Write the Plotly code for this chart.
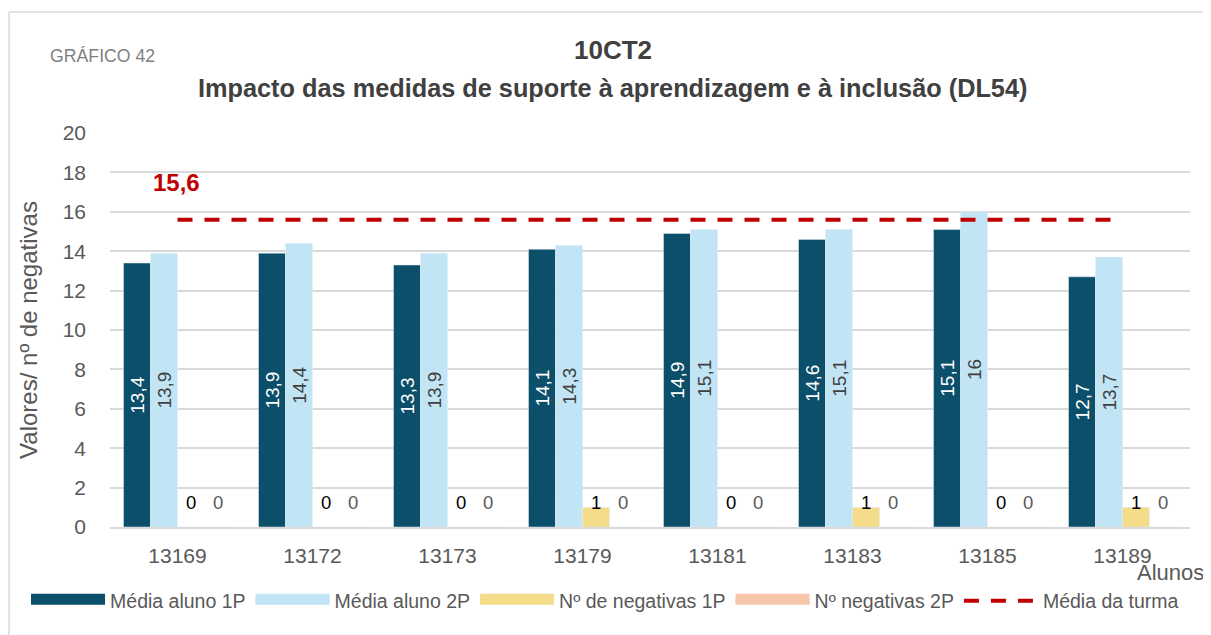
import plotly.graph_objects as go

alunos = ["13169", "13172", "13173", "13179", "13181", "13183", "13185", "13189"]
media_1p = [13.4, 13.9, 13.3, 14.1, 14.9, 14.6, 15.1, 12.7]
media_2p = [13.9, 14.4, 13.9, 14.3, 15.1, 15.1, 16.0, 13.7]
neg_1p = [0, 0, 0, 1, 0, 1, 0, 1]
neg_2p = [0, 0, 0, 0, 0, 0, 0, 0]
media_turma = [15.6, 15.6, 15.6, 15.6, 15.6, 15.6, 15.6, 15.6]
y_ticks = [0, 2, 4, 6, 8, 10, 12, 14, 16, 18, 20]

C_DARK = "#0B4F6A"
C_LIGHT = "#C1E5F5"
C_YEL = "#F5DC8A"
C_ORA = "#F7C7AC"
C_RED = "#C00000"
GRID = "#D9D9D9"
TXT = "#595959"
FONT = "Liberation Sans, Arial, sans-serif"

# page offset (browser body margin) is 8 px; pixel helpers below use absolute page pixels
OFF = 8
PL, PR, PT, PB = 110, 1190.5, 133, 527


def px_x(p):
    return (p - PL) / (PR - PL)


def px_y(p):
    return (PB - p) / (PB - PT)


def fmt(v):
    return f"{v:g}".replace(".", ",")


fig = go.Figure()
bar_series = [
    ("Média aluno 1P", media_1p, C_DARK, "white", True),
    ("Média aluno 2P", media_2p, C_LIGHT, "#404040", True),
    ("Nº de negativas 1P", neg_1p, C_YEL, None, False),
    ("Nº negativas 2P", neg_2p, C_ORA, None, False),
]
for name, vals, col, tcol, lab in bar_series:
    kw = {}
    if lab:
        kw = dict(text=[fmt(v) for v in vals], textposition="inside", textangle=-90,
                  insidetextanchor="middle", constraintext="none",
                  textfont=dict(color=tcol, size=19, family=FONT))
    else:
        kw = dict(textposition="none")
    fig.add_bar(x=alunos, y=vals, name=name, marker_color=col, showlegend=False,
                legendgroup=name, **kw)
    # wide rectangular legend swatch, like the original legend
    fig.add_scatter(x=[None], y=[None], name=name, legendgroup=name, mode="lines",
                    fill="toself", fillcolor=col, line=dict(color=col, width=12),
                    hoverinfo="skip")

fig.add_scatter(x=alunos, y=media_turma, name="Média da turma", mode="lines",
                line=dict(color=C_RED, width=4, dash="15px,12px"))

# labels of the negatives counts (placed at a fixed height like in the original)
for i in range(len(alunos)):
    fig.add_annotation(x=i, y=0, xref="x", yref="y", text=fmt(neg_1p[i]), showarrow=False,
                       xshift=13.5, yshift=25, font=dict(size=18.5, color="#000000", family=FONT))
    fig.add_annotation(x=i, y=0, xref="x", yref="y", text=fmt(neg_2p[i]), showarrow=False,
                       xshift=40.5, yshift=25, font=dict(size=18.5, color=TXT, family=FONT))

# average label
fig.add_annotation(x=0, y=media_turma[0], xref="x", yref="y",
                   text="<b>" + fmt(media_turma[0]) + "</b>",
                   showarrow=False, yshift=37, xshift=-1,
                   font=dict(size=24, color=C_RED, family=FONT))

# titles
fig.add_annotation(xref="paper", yref="paper", x=px_x(613), y=px_y(50),
                   text="<b>10CT2</b>", showarrow=False, xanchor="center", yanchor="middle",
                   font=dict(size=26, color="#404040", family=FONT))
fig.add_annotation(xref="paper", yref="paper", x=px_x(613), y=px_y(88),
                   text="<b>Impacto das medidas de suporte à aprendizagem e à inclusão (DL54)</b>",
                   showarrow=False, xanchor="center", yanchor="middle",
                   font=dict(size=25.3, color="#404040", family=FONT))
fig.add_annotation(xref="paper", yref="paper", x=px_x(48), y=px_y(56),
                   text="GRÁFICO 42", showarrow=False, xanchor="left", yanchor="middle",
                   font=dict(size=17.7, color="#7F7F7F", family=FONT))
fig.add_annotation(xref="paper", yref="paper", x=px_x(1207), y=px_y(572),
                   text="Alunos", showarrow=False, xanchor="right", yanchor="middle",
                   font=dict(size=22, color=TXT, family=FONT))

# chart-area border
fig.add_shape(type="line", xref="paper", yref="paper",
              x0=px_x(9), x1=px_x(1215), y0=px_y(12), y1=px_y(12),
              line=dict(color=GRID, width=1.5))
fig.add_shape(type="line", xref="paper", yref="paper",
              x0=px_x(9), x1=px_x(9), y0=px_y(12), y1=px_y(640),
              line=dict(color=GRID, width=1.5))

W, H = 1211 - OFF, 635 - OFF
fig.update_layout(
    width=W, height=H,
    margin=dict(l=PL - OFF, r=W - (PR - OFF), t=PT - OFF, b=H - (PB - OFF)),
    paper_bgcolor="white", plot_bgcolor="white",
    barmode="group", bargap=0.2, bargroupgap=0,
    font=dict(family=FONT, color=TXT),
    showlegend=True,
    legend=dict(orientation="h", x=px_x(26), xanchor="left",
                y=px_y(601), yanchor="middle", itemwidth=74,
                font=dict(size=19.5, color=TXT, family=FONT), traceorder="normal"),
)
fig.update_xaxes(type="category", range=[-0.5, len(alunos) - 0.5], showgrid=False,
                 showline=True, linecolor=GRID, linewidth=2,
                 tickfont=dict(size=21, color=TXT), ticks="", ticklabelstandoff=9)
fig.update_yaxes(range=[0, 20], tickvals=y_ticks, showgrid=True, gridcolor=GRID, gridwidth=2,
                 zeroline=False, showline=False, ticks="", ticklabelstandoff=23,
                 tickfont=dict(size=21, color=TXT),
                 title=dict(text="Valores/ nº de negativas", font=dict(size=24, color=TXT),
                            standoff=18))

fig.write_html("out.html")
